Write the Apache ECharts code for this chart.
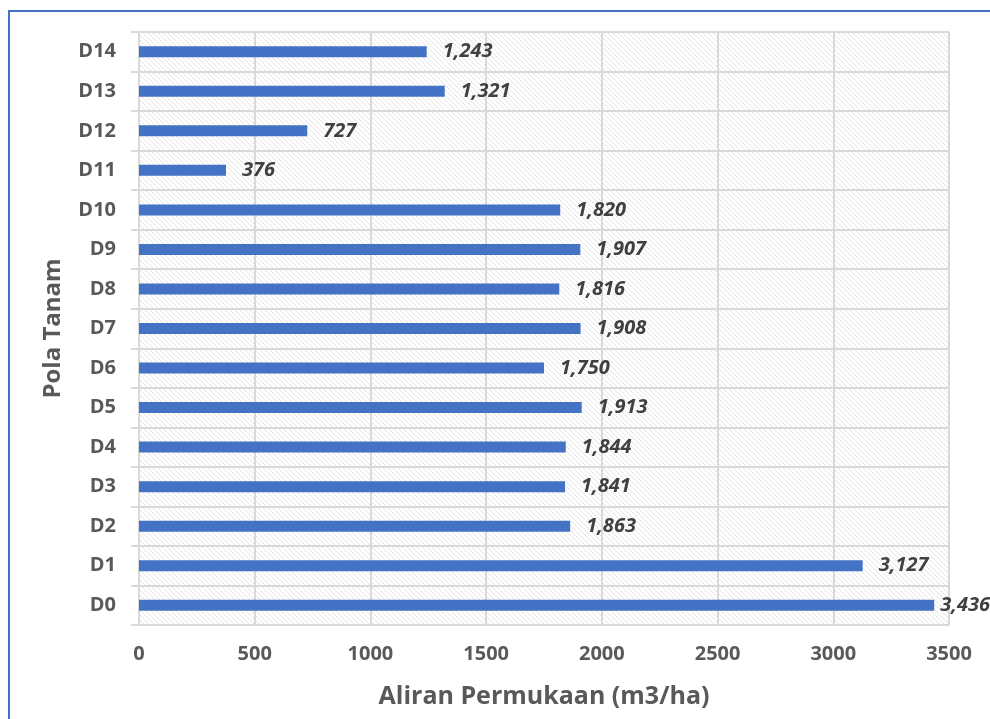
<!DOCTYPE html>
<html>
<head>
<meta charset="utf-8">
<script src="https://cdn.jsdelivr.net/npm/echarts@6/dist/echarts.min.js"></script>
<style>
  html, body { margin: 0; padding: 0; background: #fff; }
  #chart { width: 990px; height: 719px; }
</style>
</head>
<body>
<div id="chart"></div>
<script>
  var categories = ['D0', 'D1', 'D2', 'D3', 'D4', 'D5', 'D6', 'D7', 'D8', 'D9', 'D10', 'D11', 'D12', 'D13', 'D14'];
  var aliran = [3436, 3127, 1863, 1841, 1844, 1913, 1750, 1908, 1816, 1907, 1820, 376, 727, 1321, 1243];
  var xTicks = [0, 500, 1000, 1500, 2000, 2500, 3000, 3500];

  // hatch pattern for plot background
  function makeHatch() {
    var c = document.createElement('canvas');
    c.width = 5; c.height = 5;
    var ctx = c.getContext('2d');
    ctx.fillStyle = '#ffffff';
    ctx.fillRect(0, 0, 5, 5);
    ctx.strokeStyle = '#e3e3e3';
    ctx.lineWidth = 1;
    ctx.beginPath();
    ctx.moveTo(-1, -1); ctx.lineTo(6, 6);
    ctx.moveTo(-6, -1); ctx.lineTo(1, 6);
    ctx.moveTo(4, -1); ctx.lineTo(11, 6);
    ctx.stroke();
    return c;
  }

  // the longest bar's label sits closer to the bar (excel pushes it in)
  var barData = aliran.map(function (v, i) {
    return i === 0 ? { value: v, label: { distance: 6 } } : v;
  });

  var font = '"Open Sans", sans-serif';
  var myChart = echarts.init(document.getElementById('chart'));
  var option = {
    animation: false,
    textStyle: { fontFamily: font },
    grid: {
      left: 139, right: 41, top: 32, bottom: 94,
      show: true,
      borderWidth: 0,
      backgroundColor: { image: makeHatch(), repeat: 'repeat' }
    },
    graphic: [{
      type: 'rect',
      shape: { x: 9, y: 11, width: 1000, height: 800 },
      style: { fill: 'none', stroke: '#4472C4', lineWidth: 2 },
      z: 100
    }],
    xAxis: {
      type: 'value',
      min: xTicks[0],
      max: xTicks[xTicks.length - 1],
      interval: 500,
      name: 'Aliran Permukaan (m3/ha)',
      nameLocation: 'middle',
      nameGap: 59,
      nameTextStyle: { fontSize: 25, fontWeight: 'bold', color: '#595959', fontFamily: font },
      axisLine: { show: false },
      axisTick: { show: false },
      axisLabel: {
        fontSize: 20, fontWeight: 'bold', color: '#595959', margin: 19, fontFamily: font,
        formatter: function (v) { return String(v); }
      },
      splitLine: { show: true, lineStyle: { color: '#d9d9d9', width: 2 } }
    },
    yAxis: {
      type: 'category',
      data: categories,
      name: 'Pola Tanam',
      nameLocation: 'middle',
      nameGap: 74,
      nameRotate: 90,
      nameTextStyle: { fontSize: 24, fontWeight: 'bold', color: '#595959', fontFamily: font },
      axisLine: { show: true, lineStyle: { color: '#d9d9d9', width: 2 } },
      axisTick: { show: true, length: 8, lineStyle: { color: '#d9d9d9', width: 2 } },
      axisLabel: { fontSize: 20, fontWeight: 'bold', color: '#595959', margin: 23, fontFamily: font },
      splitLine: { show: true, lineStyle: { color: '#d9d9d9', width: 2 } }
    },
    series: [{
      type: 'bar',
      data: barData,
      barWidth: 11,
      itemStyle: { color: '#4472C4' },
      label: {
        show: true,
        position: 'right',
        distance: 16,
        fontSize: 20,
        fontWeight: 'bold',
        fontStyle: 'italic',
        color: '#404040',
        fontFamily: font,
        formatter: function (p) {
          return String(p.value).replace(/\B(?=(\d{3})+(?!\d))/g, ',');
        }
      }
    }]
  };
  myChart.setOption(option);
</script>
</body>
</html>
